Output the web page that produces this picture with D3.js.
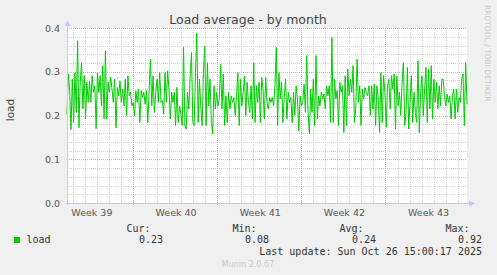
<!DOCTYPE html>
<html lang="en">
<head>
<meta charset="UTF-8">
<title>Load average - by month</title>
<script src="https://d3js.org/d3.v7.min.js"></script>
<style>
    body {
        margin: 0;
        padding: 0;
        background-color: #f0f0f0;
    }
    svg { display: block; }
    .tick-label {
        font-family: "DejaVu Sans", sans-serif;
        font-size: 9.5px;
        fill: #555;
    }
    .legend {
        font-family: "DejaVu Sans Mono", monospace;
        font-size: 10px;
        fill: #333;
    }
</style>
</head>
<body>
<svg width="497" height="275"></svg>
<script>
    // load average samples, left to right
    const loadValues = [
        0.203,0.295,0.257,0.168,0.283,0.184,0.298,0.207,0.371,0.172,0.276,0.321,0.215,0.291,0.192,0.276,0.230,0.279,0.230,0.291,
        0.253,0.268,0.170,0.298,0.253,0.291,0.222,0.314,0.192,0.348,0.192,0.276,0.253,0.287,0.260,0.230,0.283,0.172,0.264,0.245,
        0.279,0.230,0.260,0.222,0.283,0.200,0.291,0.245,0.253,0.222,0.230,0.200,0.257,0.230,0.260,0.184,0.257,0.241,0.253,0.226,
        0.257,0.184,0.257,0.329,0.222,0.291,0.207,0.253,0.283,0.230,0.298,0.230,
        0.234,0.203,0.298,0.230,0.302,0.260,0.192,0.253,0.230,0.253,0.177,0.264,0.184,0.222,0.203,0.177,0.356,0.177,0.169,0.253,
        0.215,0.291,0.344,0.184,0.177,0.298,0.388,0.184,0.283,0.222,0.177,0.298,0.359,0.177,0.321,0.222,0.283,0.184,0.158,0.268,
        0.215,0.253,0.222,0.238,0.317,0.215,0.295,0.177,0.245,0.184,0.253,0.215,0.245,0.230,0.241,0.200,0.245,0.298,0.177,0.283,
        0.222,0.253,0.291,0.200,0.276,0.230,0.207,0.268,0.192,0.321,0.184,0.268,0.230,0.276,0.184,0.287,0.260,0.192,
        0.287,0.230,0.215,0.241,0.230,0.241,0.222,0.268,0.356,0.177,0.298,0.238,0.276,0.184,0.241,0.283,0.192,0.253,0.230,0.241,
        0.184,0.253,0.200,0.268,0.238,0.165,0.245,0.222,0.230,0.272,0.207,0.337,0.207,0.158,0.260,0.207,0.283,0.177,0.337,0.192,
        0.245,0.222,0.253,0.238,0.249,0.215,0.268,0.245,0.268,0.184,0.378,0.184,0.283,0.238,0.257,0.177,0.276,0.253,0.268,0.161,
        0.291,0.177,0.306,0.245,0.283,0.253,0.314,0.184,0.215,0.329,0.230,0.268,0.177,0.260,0.238,0.264,0.253,
        0.245,0.268,0.200,0.268,0.215,0.272,0.177,0.268,0.238,0.161,0.298,0.184,0.291,0.253,0.173,0.268,0.283,0.215,0.291,0.260,
        0.295,0.169,0.291,0.222,0.253,0.200,0.276,0.321,0.177,0.207,0.310,0.169,0.230,0.291,0.184,0.253,0.207,0.184,0.325,0.161,
        0.253,0.291,0.200,0.260,0.310,0.184,0.306,0.215,0.314,0.192,0.283,0.230,0.276,0.215,0.268,0.222,0.283,0.283,0.245,0.222,
        0.249,0.230,0.245,0.192,0.245,0.260,0.192,0.260,0.207,0.241,0.230,0.283,0.295,0.177,0.321,0.226
    ];

    const timeRange = [Date.UTC(2025, 8, 23, 12, 20), Date.UTC(2025, 9, 26, 18, 40)];
    const weekLabels = ["Week 39", "Week 40", "Week 41", "Week 42", "Week 43"];
    const seriesName = "load";
    const statLabels = ["Cur:", "Min:", "Avg:", "Max:"];
    const statValues = ["0.23", "0.08", "0.24", "0.92"];
    const lastUpdate = "Last update: Sun Oct 26 15:00:17 2025";

    const svg = d3.select("svg"),
        width = +svg.attr("width"),
        height = +svg.attr("height");

    const plot = { left: 67, right: 467, top: 28, bottom: 203 };
    const green = "#00cc00";

    const x = d3.scaleUtc().domain(timeRange).range([plot.left, plot.right]);
    const y = d3.scaleLinear().domain([0, 0.4]).range([plot.bottom, plot.top]);

    const step = (timeRange[1] - timeRange[0]) / (loadValues.length - 1);
    const points = loadValues.map((v, i) => ({ t: timeRange[0] + i * step, v: v }));

    svg.append("rect")
        .attr("width", width).attr("height", height)
        .attr("fill", "#f0f0f0");

    svg.append("rect")
        .attr("x", plot.left).attr("y", plot.top)
        .attr("width", plot.right - plot.left).attr("height", plot.bottom - plot.top)
        .attr("fill", "#ffffff");

    const px = v => Math.round(v) + 0.5;
    const isMajor = v => Math.abs(v * 10 - Math.round(v * 10)) < 1e-6;

    // minor grid
    const grid = svg.append("g")
        .attr("stroke-dasharray", "1,1")
        .attr("shape-rendering", "crispEdges");

    grid.selectAll("line.hmin")
        .data(y.ticks(20).filter(v => !isMajor(v)))
        .enter().append("line")
        .attr("x1", plot.left).attr("x2", plot.right)
        .attr("y1", d => px(y(d))).attr("y2", d => px(y(d)))
        .attr("stroke", "#d4d4d4");

    const weekStarts = d3.utcMonday.range(timeRange[0], timeRange[1]);
    const days = d3.utcDay.range(timeRange[0], timeRange[1])
        .filter(d => d.getUTCDay() !== 1);

    grid.selectAll("line.vmin")
        .data(days)
        .enter().append("line")
        .attr("x1", d => px(x(d))).attr("x2", d => px(x(d)))
        .attr("y1", plot.top).attr("y2", plot.bottom)
        .attr("stroke", "#d4d4d4");

    // major grid
    grid.selectAll("line.hmaj")
        .data(y.ticks(4).filter(v => v > 0))
        .enter().append("line")
        .attr("x1", plot.left).attr("x2", plot.right)
        .attr("y1", d => px(y(d))).attr("y2", d => px(y(d)))
        .attr("stroke", "#e6a8a8");

    grid.selectAll("line.vmaj")
        .data(weekStarts)
        .enter().append("line")
        .attr("x1", d => px(x(d))).attr("x2", d => px(x(d)))
        .attr("y1", plot.top).attr("y2", plot.bottom + 3)
        .attr("stroke", "#e6a8a8");

    // data line
    const line = d3.line()
        .x(d => x(d.t))
        .y(d => y(d.v));

    svg.append("path")
        .datum(points)
        .attr("fill", "none")
        .attr("stroke", green)
        .attr("stroke-width", 1)
        .attr("d", line);

    // axes and arrows
    const axisColor = "#c8c8f0";
    svg.append("line")
        .attr("x1", px(plot.left)).attr("x2", px(plot.left))
        .attr("y1", plot.bottom + 2).attr("y2", plot.top - 3)
        .attr("stroke", axisColor).attr("shape-rendering", "crispEdges");
    svg.append("line")
        .attr("x1", plot.left - 2).attr("x2", plot.right + 3)
        .attr("y1", px(plot.bottom)).attr("y2", px(plot.bottom))
        .attr("stroke", axisColor).attr("shape-rendering", "crispEdges");

    svg.append("path")
        .attr("d", `M${plot.left + 0.5 - 3},${plot.top - 2} L${plot.left + 0.5 + 3},${plot.top - 2} L${plot.left + 0.5},${plot.top - 8} Z`)
        .attr("fill", "#c0c8ff");
    svg.append("path")
        .attr("d", `M${plot.right + 2},${plot.bottom + 0.5 - 3} L${plot.right + 2},${plot.bottom + 0.5 + 3} L${plot.right + 8},${plot.bottom + 0.5} Z`)
        .attr("fill", "#c0c8ff");

    // y tick labels
    svg.append("g").selectAll("text")
        .data(y.ticks(4))
        .enter().append("text")
        .attr("class", "tick-label")
        .attr("x", plot.left - 7)
        .attr("y", d => y(d) + 3.5)
        .attr("text-anchor", "end")
        .text(d3.format(".1f"));

    // week labels, centred in each week
    svg.append("g").selectAll("text")
        .data(weekLabels)
        .enter().append("text")
        .attr("class", "tick-label")
        .attr("x", (d, i) => x(d3.utcHour.offset(weekStarts[0], (i - 1) * 168 + 84)) + 1)
        .attr("y", 216)
        .attr("text-anchor", "middle")
        .text(d => d);

    // title and side texts
    svg.append("text")
        .attr("x", 248).attr("y", 23.5)
        .attr("text-anchor", "middle")
        .style("font-family", "'DejaVu Sans', sans-serif")
        .style("font-size", "12.5px")
        .style("fill", "#444")
        .text("Load average - by month");

    svg.append("text")
        .attr("transform", "translate(14,110) rotate(-90)")
        .attr("text-anchor", "middle")
        .style("font-family", "'DejaVu Sans', sans-serif")
        .style("font-size", "10.5px")
        .style("fill", "#444")
        .text("load");

    svg.append("text")
        .attr("transform", "translate(485,5) rotate(90)")
        .style("font-family", "'DejaVu Sans', sans-serif")
        .style("font-size", "7.5px")
        .style("fill", "#c8c8c8")
        .text("RRDTOOL / TOBI OETIKER");

    // legend
    svg.append("rect")
        .attr("x", 14).attr("y", 237)
        .attr("width", 6).attr("height", 6)
        .attr("fill", green);

    svg.append("text")
        .attr("class", "legend")
        .attr("x", 26.5).attr("y", 243)
        .text(seriesName);

    const statEnds = [163, 269, 376, 482];
    svg.append("g").selectAll("text")
        .data(statLabels)
        .enter().append("text")
        .attr("class", "legend")
        .attr("x", (d, i) => statEnds[i] - 12.5)
        .attr("y", 231.5)
        .attr("text-anchor", "end")
        .text(d => d);

    svg.append("g").selectAll("text")
        .data(statValues)
        .enter().append("text")
        .attr("class", "legend")
        .attr("x", (d, i) => statEnds[i])
        .attr("y", 243)
        .attr("text-anchor", "end")
        .text(d => d);

    svg.append("text")
        .attr("class", "legend")
        .attr("x", 482).attr("y", 254.5)
        .attr("text-anchor", "end")
        .text(lastUpdate);

    svg.append("text")
        .attr("x", 248).attr("y", 267)
        .attr("text-anchor", "middle")
        .style("font-family", "'DejaVu Sans', sans-serif")
        .style("font-size", "8px")
        .style("fill", "#c8c8c8")
        .text("Munin 2.0.67");
</script>
</body>
</html>
